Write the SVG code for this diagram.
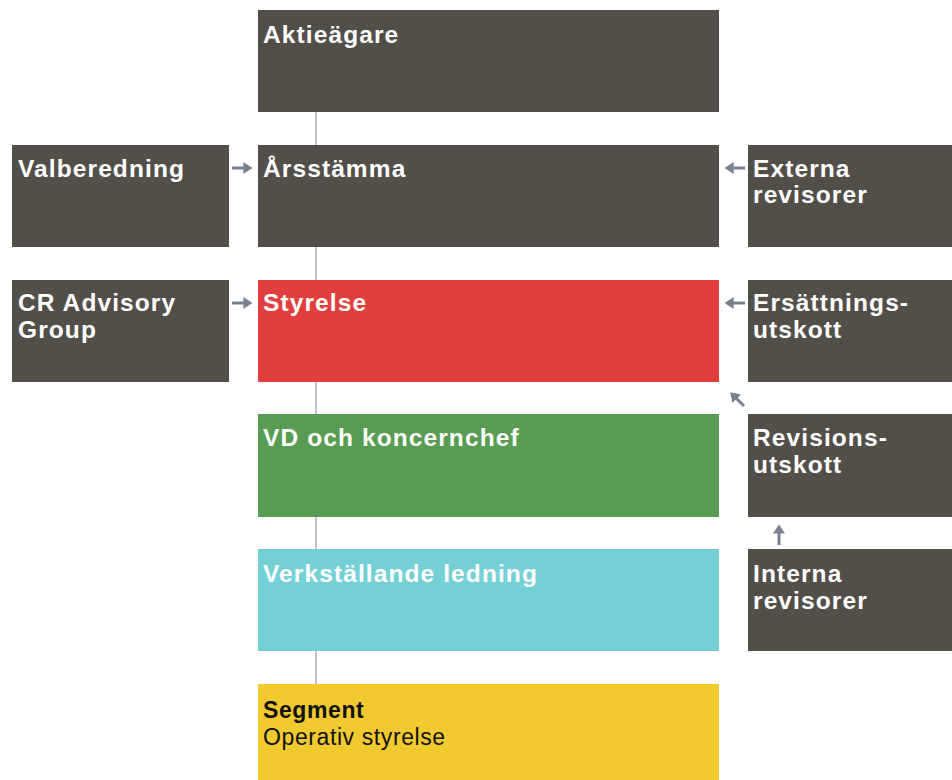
<svg xmlns="http://www.w3.org/2000/svg" width="952" height="780" viewBox="0 0 952 780">
<defs>
<style>
.dk{fill:#524f48}
.t{font-family:"Liberation Sans",Arial,sans-serif;font-size:24.5px;letter-spacing:1.1px;font-weight:bold;fill:#ffffff}
.tb{font-family:"Liberation Sans",Arial,sans-serif;font-size:23px;letter-spacing:0.6px;fill:#111111}
.ln{stroke:#a9acb5;stroke-width:1.5;fill:none}
.ar{stroke:#7b8090;stroke-width:3;fill:none;marker-end:url(#ah)}
</style>
<marker id="ah" markerWidth="4" markerHeight="4" refX="2.2" refY="2" orient="auto" markerUnits="strokeWidth">
<path d="M0,0 L3,2 L0,4 z" fill="#7b8090"/>
</marker>
</defs>
<rect width="952" height="780" fill="#ffffff"/>
<g id="connectors">
<line class="ln" x1="316" y1="112" x2="316" y2="684"/>
<line class="ar" x1="232" y1="168" x2="250" y2="168"/>
<line class="ar" x1="232" y1="303" x2="250" y2="303"/>
<line class="ar" x1="745" y1="168" x2="727" y2="168"/>
<line class="ar" x1="745" y1="303" x2="727" y2="303"/>
<line class="ar" x1="744" y1="406" x2="732" y2="394"/>
<line class="ar" x1="779" y1="545" x2="779" y2="527"/>
</g>
<g id="aktieagare"><rect class="dk" x="258" y="10" width="461" height="102"/><text class="t" x="263" y="43">Aktieägare</text></g>
<g id="arsstamma"><rect class="dk" x="258" y="145" width="461" height="102"/><text class="t" x="263" y="177">Årsstämma</text></g>
<g id="styrelse"><rect fill="#e03f3d" x="258" y="280" width="461" height="102"/><text class="t" x="263" y="311">Styrelse</text></g>
<g id="vd"><rect fill="#589b52" x="258" y="414" width="461" height="103"/><text class="t" x="263" y="446">VD och koncernchef</text></g>
<g id="ledning"><rect fill="#75d0d5" x="258" y="549" width="461" height="102"/><text class="t" x="263" y="582">Verkställande ledning</text></g>
<g id="segment"><rect fill="#f2ca2f" x="258" y="684" width="461" height="96"/><text class="tb" x="263" y="718" font-weight="bold" font-size="24.5" letter-spacing="1.3">Segment</text><text class="tb" x="263" y="745">Operativ styrelse</text></g>
<g id="valberedning"><rect class="dk" x="12" y="145" width="217" height="102"/><text class="t" x="18" y="177">Valberedning</text></g>
<g id="cradvisory"><rect class="dk" x="12" y="280" width="217" height="102"/><text class="t" x="18" y="311">CR Advisory</text><text class="t" x="18" y="338">Group</text></g>
<g id="externa"><rect class="dk" x="748" y="145" width="204" height="102"/><text class="t" x="753" y="177">Externa</text><text class="t" x="753" y="203">revisorer</text></g>
<g id="ersattning"><rect class="dk" x="748" y="280" width="204" height="102"/><text class="t" x="753" y="311">Ersättnings-</text><text class="t" x="753" y="338">utskott</text></g>
<g id="revision"><rect class="dk" x="748" y="414" width="204" height="103"/><text class="t" x="753" y="446">Revisions-</text><text class="t" x="753" y="473">utskott</text></g>
<g id="interna"><rect class="dk" x="748" y="549" width="204" height="102"/><text class="t" x="753" y="582">Interna</text><text class="t" x="753" y="609">revisorer</text></g>
</svg>
